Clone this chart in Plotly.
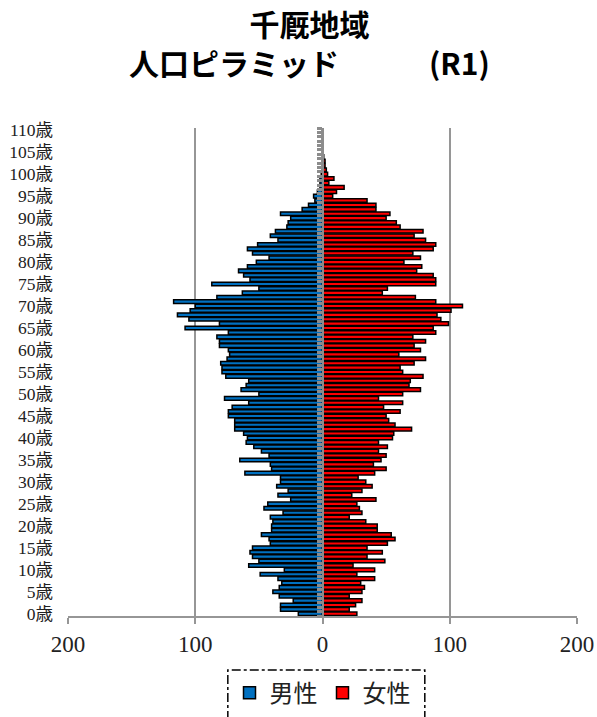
import plotly.graph_objects as go

# 年齢区分 (0歳〜110歳)
ages = [f"{i}歳" for i in range(111)]

# 男性人口 (0歳から順に)
male = [
    19, 33, 33, 23, 34, 39, 34, 32, 35, 49,
    30, 58, 50, 55, 57, 55, 41, 42, 48, 40,
    40, 39, 41, 31, 46, 43, 25, 35, 27, 36,
    33, 33, 61, 40, 41, 65, 42, 48, 54, 60,
    59, 62, 69, 69, 69, 74, 74, 71, 58, 77,
    50, 64, 60, 58, 76, 79, 79, 80, 75, 73,
    74, 81, 81, 83, 74, 108, 81, 105, 114, 104,
    100, 117, 83, 63, 50, 87, 57, 62, 66, 59,
    52, 42, 55, 59, 51, 35, 41, 37, 28, 27,
    25, 33, 16, 11, 6, 7, 4, 2, 2, 2,
    1, 0, 0, 0, 0, 0, 0, 0, 0, 0, 0,
]

# 女性人口 (0歳から順に)
female = [
    27, 21, 26, 31, 21, 31, 33, 30, 41, 27,
    41, 24, 49, 35, 47, 35, 51, 57, 54, 43,
    43, 34, 21, 31, 29, 27, 42, 23, 31, 39,
    34, 28, 41, 50, 40, 46, 50, 44, 51, 44,
    55, 56, 70, 57, 52, 50, 61, 48, 63, 44,
    63, 77, 68, 69, 79, 63, 61, 72, 81, 60,
    77, 72, 81, 71, 89, 87, 99, 93, 90, 101,
    110, 89, 73, 47, 51, 89, 89, 87, 74, 78,
    64, 77, 71, 87, 89, 81, 72, 79, 61, 58,
    50, 53, 42, 42, 35, 8, 11, 17, 5, 9,
    4, 3, 2, 2, 1, 0, 0, 0, 0, 0, 0,
]

x_ticks = [-200, -100, 0, 100, 200]
x_tick_text = ["200", "100", "0", "100", "200"]

GRID = "#969696"
SERIF = "Liberation Serif, Noto Sans CJK JP"
GOTHIC = "Noto Sans CJK JP"

fig = go.Figure()
fig.add_trace(go.Bar(
    y=ages, x=[-v for v in male], orientation="h", name="男性",
    marker=dict(color="#0070C0", line=dict(color="black", width=1.5)),
    yaxis="y",
))
fig.add_trace(go.Bar(
    y=ages, x=female, orientation="h", name="女性",
    marker=dict(color="#FF0000", line=dict(color="black", width=1.5)),
    yaxis="y2",
))

fig.update_layout(
    width=597, height=717,
    margin=dict(l=68, r=20, t=127.6, b=101.4, autoexpand=False),
    paper_bgcolor="white", plot_bgcolor="white",
    barmode="overlay", bargap=0.18,
    showlegend=True,
    legend=dict(
        orientation="h", x=0.5, xanchor="center",
        y=-0.158, yanchor="middle",
        font=dict(family=GOTHIC, size=24, color="#222"),
        bgcolor="rgba(0,0,0,0)", itemwidth=30,
    ),
    xaxis=dict(
        range=[-200, 200], tickmode="array", tickvals=x_ticks, ticktext=x_tick_text,
        showgrid=True, gridcolor=GRID, gridwidth=2, zeroline=False,
        showline=True, linecolor=GRID, linewidth=2, automargin=False,
        ticks="outside", ticklen=6, tickwidth=2, tickcolor=GRID,
        tickfont=dict(family=SERIF, size=23, color="#222"),
    ),
    yaxis=dict(
        type="category", categoryorder="array", categoryarray=ages,
        range=[-0.5, 110.5], automargin=False,
        tickmode="array", tickvals=ages[::5], ticktext=ages[::5],
        showgrid=False, zeroline=False, showline=False, ticks="",
        ticklabelstandoff=14,
        tickfont=dict(family=SERIF, size=17.5, color="#222"),
    ),
    yaxis2=dict(
        type="category", categoryorder="array", categoryarray=ages,
        range=[-0.5, 110.5], overlaying="y", anchor="free", position=0.5,
        side="left", showticklabels=False, showgrid=False, zeroline=False,
        showline=True, linecolor="#8c8c8c", linewidth=1.5, automargin=False,
        tickmode="linear", tick0=0, dtick=1, tickson="boundaries",
        ticks="outside", ticklen=5, tickwidth=2.6, tickcolor="#8c8c8c",
    ),
    annotations=[
        dict(text="<b>千厩地域</b><br><b>人口ピラミッド　　　(R1)</b>",
             xref="paper", yref="paper", x=0.475, y=1.176,
             xanchor="center", yanchor="middle", align="center", showarrow=False,
             font=dict(family=GOTHIC, size=30, color="black")),
    ],
    shapes=[
        dict(type="rect", xref="paper", yref="paper",
             x0=0.314, x1=0.701, y0=-0.215, y1=-0.1106,
             line=dict(color="black", width=1.5, dash="dashdot"),
             fillcolor="rgba(0,0,0,0)", layer="above"),
    ],
)

fig.write_html("out.html")
